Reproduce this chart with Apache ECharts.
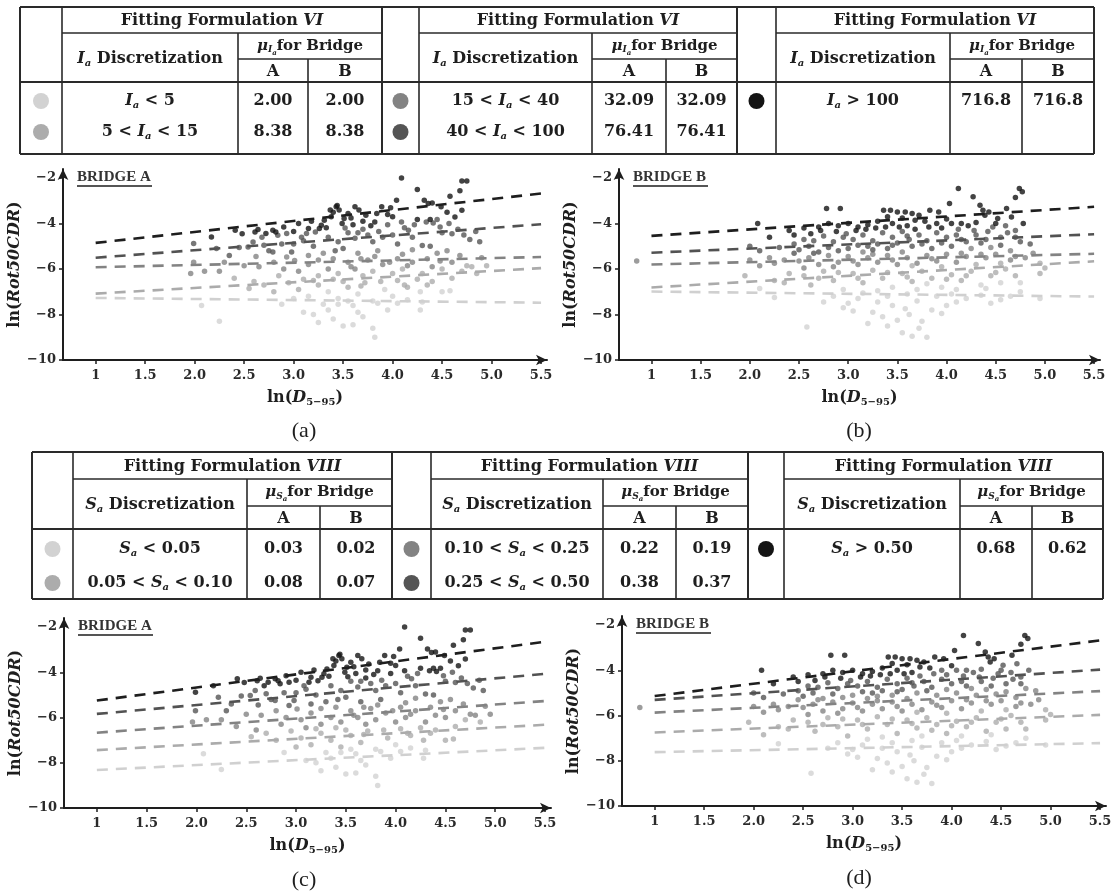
<!DOCTYPE html>
<html><head><meta charset="utf-8">
<script src="https://cdn.jsdelivr.net/npm/echarts/dist/echarts.min.js"></script>
<style>html,body{margin:0;padding:0;background:#fff}#c{width:1115px;height:892px}</style>
</head><body><div id="c"></div><script>
// ---------------- data ----------------
const xTicks = [1, 1.5, 2, 2.5, 3, 3.5, 4, 4.5, 5, 5.5];
const xTickLabels = ['1', '1.5', '2.0', '2.5', '3.0', '3.5', '4.0', '4.5', '5.0', '5.5'];
const yTicks = [-10, -8, -6, -4, -2];
const yTickLabels = ['\u221210', '\u22128', '\u22126', '\u22124', '\u22122'];

// table content
const iaBins = ['Ia < 5', '5 < Ia < 15', '15 < Ia < 40', '40 < Ia < 100', 'Ia > 100'];
const iaMuA = ['2.00', '8.38', '32.09', '76.41', '716.8'];
const iaMuB = ['2.00', '8.38', '32.09', '76.41', '716.8'];
const saBins = ['Sa < 0.05', '0.05 < Sa < 0.10', '0.10 < Sa < 0.25', '0.25 < Sa < 0.50', 'Sa > 0.50'];
const saMuA = ['0.03', '0.08', '0.22', '0.38', '0.68'];
const saMuB = ['0.02', '0.07', '0.19', '0.37', '0.62'];

// fitted lines: [value at ln(D)=1, value at ln(D)=5.5] for classes 1..5
const fitX = [1, 5.5];
const fitIaA = [[-7.27, -7.48], [-7.08, -5.96], [-5.92, -5.47], [-5.50, -4.03], [-4.85, -2.68]];
const fitIaB = [[-6.99, -7.21], [-6.81, -5.66], [-5.80, -5.33], [-5.28, -4.47], [-4.54, -3.26]];
const fitSaA = [[-8.32, -7.34], [-7.44, -6.32], [-6.67, -5.27], [-5.84, -4.07], [-5.25, -2.65]];
const fitSaB = [[-7.62, -7.22], [-6.75, -5.97], [-5.87, -4.92], [-5.31, -3.97], [-5.14, -2.68]];

// records: [ln(D5-95), ln(Rot50CDR), Ia class, Sa class]
const bridgeA = [
[4.09,-2.0,5,5],[4.25,-2.5,5,5],[4.70,-2.13,5,5],[4.75,-2.13,5,5],[4.68,-2.56,5,5],[4.58,-2.8,5,5],[4.49,-3.26,5,5],[4.32,-2.97,5,5],[4.36,-3.12,5,5],[4.40,-3.1,5,5],
[4.04,-2.97,5,5],[3.98,-3.3,5,5],[3.89,-3.26,5,5],[3.84,-3.56,5,5],[3.82,-3.93,5,5],[3.73,-3.63,5,5],[3.66,-3.4,5,5],[3.62,-3.26,5,5],[3.55,-3.56,5,5],[3.51,-3.78,5,5],
[3.49,-4.0,5,5],[3.44,-3.2,5,5],[3.46,-3.4,5,5],[3.40,-3.5,5,5],[3.37,-3.4,5,5],[3.43,-3.26,5,5],[3.31,-3.85,5,5],[3.28,-4.07,5,5],[3.33,-4.18,5,5],[3.26,-4.22,5,5],
[3.22,-4.37,4,5],[3.15,-4.22,5,5],[3.13,-4.44,4,5],[4.09,-3.93,4,5],[4.16,-4.29,4,4],[4.12,-4.18,4,4],[4.25,-3.82,5,5],[4.34,-3.93,4,5],[4.38,-3.82,5,5],[4.41,-3.97,4,5],
[4.45,-3.82,4,5],[4.70,-3.41,5,5],[4.63,-3.71,5,5],[3.58,-3.75,5,5],[3.60,-4.05,5,5],[3.70,-3.9,5,5],[3.05,-4.0,5,5],[2.93,-4.44,4,5],[2.82,-4.37,5,5],[2.79,-4.29,5,5],
[2.84,-4.51,4,5],[2.61,-4.37,5,5],[2.64,-4.26,5,5],[2.72,-4.44,5,5],[2.41,-4.29,5,5],[3.95,-3.6,5,5],[4.55,-3.5,5,5],
[2.48,-4.45,5,5],[2.68,-4.6,4,5],[2.90,-4.15,5,5],[3.00,-4.35,5,5],[3.08,-4.6,4,4],[3.18,-3.9,5,5],[3.38,-3.7,5,5],[3.52,-4.2,4,5],[3.65,-4.4,4,4],[3.78,-4.1,5,5],
[3.86,-4.35,4,4],[3.95,-4.05,4,5],[4.00,-3.7,5,5],[4.22,-4.05,4,4],[4.48,-4.15,4,4],[4.57,-4.0,4,4],[4.66,-4.25,4,4],[4.84,-4.35,4,4],
[2.59,-4.81,4,4],[2.54,-5.03,4,4],[1.99,-4.88,4,5],[2.17,-4.59,5,5],[2.22,-5.1,4,4],[2.45,-5.05,4,4],[2.70,-4.95,4,4],[2.75,-5.2,4,4],[2.88,-4.9,4,4],[3.00,-4.9,4,4],
[3.10,-4.75,4,4],[3.20,-5.0,4,4],[3.35,-4.6,4,4],[3.45,-4.8,4,4],[3.55,-4.4,4,4],[3.62,-4.65,4,4],[3.75,-4.5,4,4],[3.80,-4.8,4,4],[3.90,-4.6,4,4],[4.00,-4.5,4,4],
[4.05,-4.9,4,4],[4.20,-4.6,4,4],[4.30,-4.96,4,4],[4.38,-5.0,4,4],[4.50,-4.4,4,4],[4.60,-4.45,4,4],[4.72,-4.5,4,4],[4.78,-4.7,4,4],[4.88,-4.8,4,4],[3.70,-4.25,4,5],
[3.30,-5.3,3,4],[3.15,-5.4,3,4],[2.93,-5.47,3,4],[2.79,-5.25,4,4],[3.01,-5.62,3,3],[3.50,-5.1,4,4],[3.65,-5.3,3,4],[3.85,-5.2,3,4],[4.10,-5.35,3,3],[4.20,-5.15,3,3],
[4.45,-5.3,3,3],[4.55,-5.2,3,3],
[2.35,-5.4,4,4],[2.62,-5.45,3,4],[2.98,-5.25,4,4],[3.25,-5.6,3,3],[3.42,-5.2,4,4],[3.58,-5.9,3,3],[3.68,-5.55,3,3],[3.82,-5.45,3,3],[3.97,-5.7,3,3],[4.05,-5.55,3,3],
[4.15,-5.85,3,3],[4.35,-5.55,3,3],[4.48,-5.65,3,3],[4.68,-5.4,3,3],[4.75,-5.85,2,3],[4.90,-5.5,3,3],
[1.99,-5.7,3,4],[1.96,-6.2,3,3],[2.10,-6.1,3,3],[2.25,-6.1,3,3],[2.30,-5.7,3,4],[2.50,-5.85,3,3],[2.65,-5.9,3,3],[2.80,-5.7,3,3],[2.90,-6.0,3,3],[3.05,-6.1,3,3],
[3.15,-5.8,3,3],[3.25,-6.3,2,3],[3.35,-6.0,3,3],[3.45,-6.2,2,3],[3.55,-5.7,3,3],[3.62,-6.0,3,3],[3.70,-6.3,2,3],[3.80,-6.1,2,3],[3.90,-5.8,3,3],[4.00,-6.2,2,3],
[4.10,-6.0,2,3],[4.20,-5.7,3,3],[4.30,-6.2,2,3],[4.40,-5.9,3,3],[4.50,-6.0,2,3],[4.60,-5.7,3,3],[4.70,-6.1,2,2],[4.80,-5.9,2,3],[4.95,-5.85,2,3],[4.85,-6.2,2,2],
[4.60,-6.4,2,2],[3.75,-5.6,3,3],[3.40,-5.55,3,3],[4.25,-6.45,2,2],[4.05,-6.5,2,2],
[2.40,-6.4,2,3],[2.60,-6.55,2,3],[2.85,-6.3,2,3],[3.10,-6.45,2,3],[3.40,-6.45,2,2],[3.68,-6.75,2,2],[3.88,-6.55,2,2],[4.12,-6.7,2,2],[4.40,-6.55,2,2],[4.58,-6.95,1,2],
[2.55,-6.85,2,2],[2.70,-6.7,2,2],[2.80,-7.0,2,2],[2.95,-6.6,2,2],[3.05,-6.9,2,2],[3.15,-7.2,1,2],[3.25,-6.7,2,2],[3.35,-7.0,1,2],[3.45,-7.3,1,2],[3.55,-6.8,2,2],
[3.65,-7.1,1,2],[3.72,-6.6,2,2],[3.80,-7.4,1,1],[3.92,-6.9,1,2],[4.00,-7.2,1,1],[4.15,-6.8,2,2],[4.28,-7.0,1,2],[4.35,-6.7,2,2],[4.50,-7.0,1,2],[3.20,-6.5,2,2],
[3.50,-6.55,2,2],
[2.07,-7.6,1,1],[2.25,-8.3,1,1],[2.88,-7.55,1,1],[3.10,-7.9,1,1],[3.20,-8.0,1,1],[3.25,-8.35,1,1],[3.35,-7.8,1,1],[3.40,-8.2,1,1],[3.50,-8.5,1,1],[3.60,-8.45,1,1],
[3.65,-7.9,1,1],[3.70,-8.1,1,1],[3.80,-8.6,1,1],[3.82,-9.0,1,1],[3.60,-7.6,1,1],[3.85,-7.5,1,1],[4.05,-7.5,1,1],[4.28,-7.8,1,1],[4.30,-7.45,1,1],[3.45,-7.55,1,1],
[3.00,-7.3,1,2],[3.30,-7.55,1,1],[3.55,-7.4,1,1],[3.95,-7.8,1,1],[4.15,-7.35,1,1]
];
const bridgeB = [
[4.12,-2.46,5,5],[4.27,-2.82,5,5],[4.74,-2.46,5,5],[4.77,-2.6,5,5],[4.70,-2.85,5,5],[4.61,-3.34,5,5],[4.66,-3.71,5,4],[4.03,-3.12,5,5],[4.34,-3.19,5,5],[4.37,-3.41,5,5],
[4.43,-3.49,5,5],[4.39,-3.63,5,5],[4.52,-3.78,5,4],[4.50,-4.0,5,4],[4.47,-4.15,4,4],[2.78,-3.34,5,5],[2.92,-3.34,5,5],[3.36,-3.41,5,5],[3.43,-3.41,5,5],[3.50,-3.49,5,5],
[3.58,-3.49,5,5],[3.65,-3.56,5,5],[3.72,-3.63,5,5],[3.83,-3.41,5,5],[3.92,-3.49,5,5],[4.00,-3.8,5,5],[3.40,-3.7,5,5],[3.55,-3.75,5,5],[3.68,-3.85,5,5],[3.78,-3.9,5,5],
[3.90,-4.0,5,4],[4.05,-4.0,5,4],[4.15,-4.0,5,4],[4.22,-4.1,5,4],[4.30,-3.95,5,4],[3.30,-3.9,5,5],[3.20,-4.05,5,5],[3.10,-4.15,5,5],[3.00,-4.0,5,5],[2.90,-4.1,5,5],
[2.80,-4.0,5,5],[2.70,-4.15,5,5],[2.55,-4.2,5,5],[2.40,-4.3,5,5],[2.08,-4.0,5,5],[2.20,-4.6,5,5],[3.45,-4.0,5,5],[3.60,-4.1,5,5],[4.60,-4.1,4,4],[4.70,-4.3,4,4],
[4.62,-4.4,4,4],
[2.45,-4.5,5,5],[2.62,-4.45,5,5],[2.72,-4.3,5,5],[2.88,-4.35,5,5],[2.98,-4.45,4,4],[3.08,-4.3,5,5],[3.18,-4.25,5,5],[3.28,-4.2,5,5],[3.38,-4.15,5,5],[3.52,-4.15,5,5],
[3.68,-4.25,5,4],[3.82,-4.15,5,4],[3.95,-4.2,5,4],[4.12,-4.25,4,4],[4.28,-4.3,4,4],[4.42,-4.35,4,4],[4.78,-4.0,5,4],
[2.00,-5.0,4,4],[2.10,-5.2,4,4],[2.30,-5.05,4,4],[2.45,-4.9,4,4],[2.55,-4.7,4,4],[2.65,-4.75,4,4],[2.75,-4.55,4,4],[2.85,-4.8,4,4],[2.95,-4.6,4,4],[3.05,-4.7,4,4],
[3.15,-4.5,4,4],[3.25,-4.75,4,4],[3.35,-4.4,4,4],[3.45,-4.6,4,4],[3.55,-4.35,4,4],[3.62,-4.7,4,4],[3.72,-4.5,4,4],[3.80,-4.75,4,4],[3.90,-4.4,4,4],[4.00,-4.6,4,4],
[4.10,-4.5,4,4],[4.20,-4.8,4,3],[4.30,-4.5,4,4],[4.40,-4.7,4,4],[4.55,-4.6,4,4],[4.75,-4.8,4,3],[4.85,-4.9,4,3],[2.60,-5.0,4,4],[2.80,-5.05,4,4],[3.00,-5.1,4,3],
[3.20,-5.0,4,4],[3.40,-5.1,4,3],[3.65,-5.0,4,3],[3.85,-5.1,4,3],[4.05,-5.0,4,3],[4.25,-5.1,3,3],[4.45,-5.05,3,3],[4.65,-5.2,3,3],[3.50,-4.85,4,4],[3.30,-4.9,4,4],
[2.50,-5.15,4,4],[2.70,-5.25,4,3],[2.90,-5.2,4,3],[3.10,-4.95,4,4],[3.25,-5.15,4,3],[3.45,-4.95,4,4],[3.60,-4.55,4,4],[3.75,-4.9,4,4],[3.95,-4.85,4,3],[4.15,-4.7,4,4],
[4.35,-4.85,4,3],[4.55,-4.95,4,3],[4.70,-4.6,4,4],
[0.85,-5.65,3,3],[2.00,-5.6,3,3],[2.10,-5.85,3,3],[2.20,-5.5,3,3],[2.35,-5.6,3,3],[2.45,-5.3,4,3],[2.60,-5.5,3,3],[2.70,-5.8,3,3],[2.80,-5.4,3,3],[2.90,-5.7,3,3],
[3.00,-5.45,3,3],[3.10,-5.8,3,3],[3.20,-5.5,3,3],[3.30,-5.7,3,3],[3.40,-5.4,3,3],[3.50,-5.8,3,3],[3.60,-5.5,3,3],[3.70,-5.75,3,3],[3.80,-5.4,3,3],[3.90,-5.65,3,3],
[4.00,-5.35,3,3],[4.10,-5.7,3,3],[4.20,-5.45,3,3],[4.30,-5.8,2,2],[4.40,-5.5,3,3],[4.50,-5.35,3,3],[4.65,-5.6,3,3],[4.80,-5.5,3,3],[4.95,-5.75,2,2],[5.00,-5.95,2,2],
[3.55,-5.25,3,3],[3.15,-5.25,3,3],[2.55,-5.95,3,3],
[2.25,-5.75,3,3],[2.50,-5.65,3,3],[2.65,-5.3,4,3],[2.85,-5.9,3,3],[3.05,-5.65,3,3],[3.25,-5.35,3,3],[3.45,-5.6,3,3],[3.65,-5.85,2,2],[3.85,-5.55,3,3],[3.95,-5.9,2,2],
[4.15,-5.3,3,3],[4.35,-5.35,3,3],[4.55,-5.75,2,2],[4.70,-5.45,3,3],[4.88,-5.3,3,3],
[1.95,-6.3,2,2],[2.10,-6.85,1,2],[2.25,-6.5,2,2],[2.40,-6.2,2,2],[2.55,-6.3,2,2],[2.62,-6.7,2,2],[2.75,-6.1,2,2],[2.85,-6.5,2,2],[2.95,-6.9,1,2],[3.05,-6.2,2,2],
[3.15,-6.6,2,2],[3.25,-6.05,2,2],[3.35,-6.4,2,2],[3.45,-6.8,1,2],[3.55,-6.2,2,2],[3.65,-6.55,2,2],[3.75,-6.1,2,2],[3.85,-6.4,2,2],[3.95,-6.8,1,2],[4.05,-6.25,2,2],
[4.15,-6.5,2,2],[4.25,-6.1,2,2],[4.35,-6.7,1,2],[4.45,-6.3,2,2],[4.55,-6.6,1,2],[4.60,-6.0,2,2],[4.75,-6.6,1,2],[3.30,-6.95,1,1],[3.70,-6.9,1,1],[4.10,-6.9,1,1],
[4.40,-6.85,1,1],
[2.35,-6.6,2,2],[2.70,-6.4,2,2],[2.90,-6.15,2,2],[3.10,-6.4,2,2],[3.40,-6.15,2,2],[3.60,-6.35,2,2],[3.80,-6.65,1,2],[4.00,-6.45,2,2],[4.20,-6.3,2,2],[4.50,-6.15,2,2],
[4.70,-6.3,2,2],[4.95,-6.2,2,2],
[2.25,-7.25,1,1],[2.58,-8.55,1,1],[2.85,-7.2,1,1],[2.95,-7.7,1,1],[3.00,-7.5,1,1],[3.10,-7.3,1,1],[3.20,-8.4,1,1],[3.25,-7.9,1,1],[3.35,-8.1,1,1],[3.45,-7.6,1,1],
[3.50,-8.25,1,1],[3.55,-8.8,1,1],[3.62,-8.0,1,1],[3.65,-8.95,1,1],[3.70,-7.4,1,1],[3.75,-8.3,1,1],[3.80,-9.0,1,1],[3.85,-7.8,1,1],[3.90,-7.2,1,1],[4.00,-7.6,1,1],
[4.05,-7.1,1,1],[3.40,-7.2,1,1],[4.20,-7.3,1,1],[4.35,-7.15,1,1],[4.55,-7.35,1,1],[4.75,-7.0,1,1],[4.95,-7.3,1,1],[3.15,-7.05,1,1],[3.60,-7.1,1,1],
[2.75,-7.45,1,1],[3.05,-7.85,1,1],[3.30,-7.45,1,1],[3.40,-8.5,1,1],[3.58,-7.75,1,1],[3.72,-8.6,1,1],[3.95,-7.95,1,1],[4.10,-7.45,1,1],[4.45,-7.5,1,1],[4.65,-7.2,1,1]
];

// ---------------- styling / layout ----------------
const F = 'Liberation Serif';
const FT = 'DejaVu Serif';
const INK = '#1e1e1e';
const classColors = ['#d2d2d2', '#acacac', '#838383', '#555555', '#141414'];
const lineColors = ['#d0d0d0', '#ababab', '#838383', '#525252', '#1e1e1e'];

function richSet(size, key) {
  const c = {}; c[key] = INK;
  const mk = (o) => Object.assign({fontFamily: FT, fontWeight: 'bold'}, c, o);
  return {
    it: mk({fontStyle: 'italic', fontSize: size}),
    sub: mk({fontStyle: 'italic', fontSize: Math.round(size * 0.62), padding: [Math.round(size * 0.55), 0, 0, 0]}),
    subn: mk({fontSize: Math.round(size * 0.62), padding: [Math.round(size * 0.55), 0, 0, 0]}),
    sub2: mk({fontStyle: 'italic', fontSize: Math.round(size * 0.45), padding: [Math.round(size * 0.95), 0, 0, 0]}),
    b: mk({fontSize: size})
  };
}
function rt(s) { return s.replace(/([IS])a/g, '{it|$1}{sub|a}'); }

const graphics = [];
function gline(x1, y1, x2, y2, w) {
  graphics.push({type: 'line', shape: {x1, y1, x2, y2}, style: {stroke: '#2a2a2a', lineWidth: w || 1.6}, silent: true});
}
function gtext(x, y, text, size, fam, weight) {
  graphics.push({type: 'text', x, y, silent: true, z: 10,
    style: {text, fontFamily: fam || FT, fontWeight: weight || 'bold', fontSize: size, fill: INK,
      align: 'center', verticalAlign: 'middle', rich: richSet(size, 'fill')}});
}
function gcircle(cx, cy, r, color) {
  graphics.push({type: 'circle', shape: {cx, cy, r}, style: {fill: color}, silent: true});
}

function drawTable(xs, ys, rowY, roman, varName, muSym, bins, muA, muB) {
  const [top, r1, r2, r3, bot] = ys;
  const L = xs[0], R = xs[xs.length - 1];
  gline(L, top, R, top, 2); gline(L, r3, R, r3, 2); gline(L, bot, R, bot, 2);
  const groups = [[0, 1], [2, 3], [4]];
  const TS = 16;
  for (let g = 0; g < 3; g++) {
    const x0 = xs[4 * g], x1 = xs[4 * g + 1], x2 = xs[4 * g + 2], x3 = xs[4 * g + 3], x4 = xs[4 * g + 4];
    gline(x0, top, x0, bot, 2);
    gline(x1, top, x1, bot, 1.6);
    gline(x2, r1, x2, bot, 1.6);
    gline(x3, r2, x3, bot, 1.6);
    gline(x1, r1, x4, r1, 1.6);
    gline(x2, r2, x4, r2, 1.6);
    gtext((x1 + x4) / 2, (top + r1) / 2 + 1, 'Fitting Formulation {it|' + roman + '}', TS);
    gtext((x1 + x2) / 2, (r1 + r3) / 2 + 1, '{it|' + varName + '}{sub|a} Discretization', TS);
    gtext((x2 + x4) / 2, (r1 + r2) / 2, '{it|\u03bc}{sub|' + muSym + '}{sub2|a}for Bridge', 15);
    gtext((x2 + x3) / 2, (r2 + r3) / 2 + 1, 'A', TS);
    gtext((x3 + x4) / 2, (r2 + r3) / 2 + 1, 'B', TS);
    groups[g].forEach((k, j) => {
      gcircle((x0 + x1) / 2, rowY[j], 8, classColors[k]);
      gtext((x1 + x2) / 2, rowY[j], rt(bins[k]), TS);
      gtext((x2 + x3) / 2, rowY[j], muA[k], TS);
      gtext((x3 + x4) / 2, rowY[j], muB[k], TS);
    });
  }
  gline(R, top, R, bot, 2);
}

drawTable([20, 62, 238, 308, 382, 419, 592, 666, 737, 776, 950, 1022, 1094], [7, 33, 59, 82, 154], [101, 132],
  'VI', 'I', 'I', iaBins, iaMuA, iaMuB);
drawTable([32, 73, 247, 320, 392, 431, 603, 676, 748, 784, 960, 1032, 1103], [452, 479, 506, 529, 599], [549, 583],
  'VIII', 'S', 'S', saBins, saMuA, saMuB);

const grids = [
  {left: 63, top: 169, width: 484, height: 191},
  {left: 619, top: 169, width: 481, height: 191},
  {left: 64, top: 618, width: 487, height: 190},
  {left: 622, top: 616, width: 484, height: 190}
];
const panels = [
  {pts: bridgeA, ci: 2, fit: fitIaA, name: 'BRIDGE A', tag: '(a)'},
  {pts: bridgeB, ci: 2, fit: fitIaB, name: 'BRIDGE B', tag: '(b)'},
  {pts: bridgeA, ci: 3, fit: fitSaA, name: 'BRIDGE A', tag: '(c)'},
  {pts: bridgeB, ci: 3, fit: fitSaB, name: 'BRIDGE B', tag: '(d)'}
];
const tagPos = [[304, 431], [859, 431], [304, 880], [859, 878]];

const xAxes = [], yAxes = [], series = [];
const fmtX = v => { const i = xTicks.findIndex(t => Math.abs(t - v) < 1e-6); return i >= 0 ? xTickLabels[i] : ''; };
const fmtY = v => { const i = yTicks.findIndex(t => Math.abs(t - v) < 1e-6); return i >= 0 ? yTickLabels[i] : ''; };
const axisFont = {fontFamily: FT, fontWeight: 'bold', fontSize: 13, color: '#2a2a2a'};

panels.forEach((p, i) => {
  const g = grids[i];
  xAxes.push({
    gridIndex: i, type: 'value', min: 0.67, max: 5.56,
    axisLine: {onZero: false, symbol: ['none', 'arrow'], symbolSize: [8, 11], lineStyle: {color: INK, width: 2}},
    axisTick: {show: true, length: 4, customValues: xTicks, lineStyle: {color: INK, width: 1.5}},
    axisLabel: Object.assign({customValues: xTicks, formatter: fmtX, margin: 9}, axisFont),
    splitLine: {show: false},
    name: 'ln({it|D}{subn|5\u221295})', nameLocation: 'middle', nameGap: 28,
    nameTextStyle: {fontFamily: FT, fontWeight: 'bold', fontSize: 16, color: INK, rich: richSet(16, 'color')}
  });
  yAxes.push({
    gridIndex: i, type: 'value', min: -10, max: -1.6,
    axisLine: {onZero: false, symbol: ['none', 'arrow'], symbolSize: [8, 11], lineStyle: {color: INK, width: 2}},
    axisTick: {show: true, length: 4, customValues: yTicks, lineStyle: {color: INK, width: 1.5}},
    axisLabel: Object.assign({customValues: yTicks, formatter: fmtY, margin: 7}, axisFont),
    splitLine: {show: false},
    name: 'ln({it|Rot50CDR})', nameLocation: 'middle', nameGap: 34, nameRotate: 90,
    nameTextStyle: {fontFamily: FT, fontWeight: 'bold', fontSize: 16, color: INK, rich: richSet(16, 'color')}
  });
  for (let k = 1; k <= 5; k++) {
    series.push({
      type: 'scatter', xAxisIndex: i, yAxisIndex: i, symbolSize: 5.5, z: 2,
      itemStyle: {color: classColors[k - 1]},
      data: p.pts.filter(r => r[p.ci] === k).map(r => [r[0], r[1]])
    });
  }
  for (let k = 1; k <= 5; k++) {
    series.push({
      type: 'line', xAxisIndex: i, yAxisIndex: i, showSymbol: false, z: 3,
      lineStyle: {type: [11, 8], width: 2.6, color: lineColors[k - 1]},
      data: fitX.map((x, j) => [x, p.fit[k - 1][j]])
    });
  }
  // panel decorations
  graphics.push({type: 'text', x: g.left + 14, y: g.top + 8, silent: true, z: 10,
    style: {text: p.name, fontFamily: F, fontWeight: 'bold', fontSize: 15, fill: '#333', align: 'left', verticalAlign: 'middle'}});
  graphics.push({type: 'line', silent: true, shape: {x1: g.left + 14, y1: g.top + 17, x2: g.left + 89, y2: g.top + 17},
    style: {stroke: '#555', lineWidth: 2}});
  gtext(tagPos[i][0], tagPos[i][1], p.tag, 22, F, 'normal');
});

const chart = echarts.init(document.getElementById('c'), null, {renderer: 'canvas'});
chart.setOption({
  animation: false,
  backgroundColor: '#fff',
  grid: grids,
  xAxis: xAxes,
  yAxis: yAxes,
  series: series,
  graphic: graphics
});
</script></body></html>
